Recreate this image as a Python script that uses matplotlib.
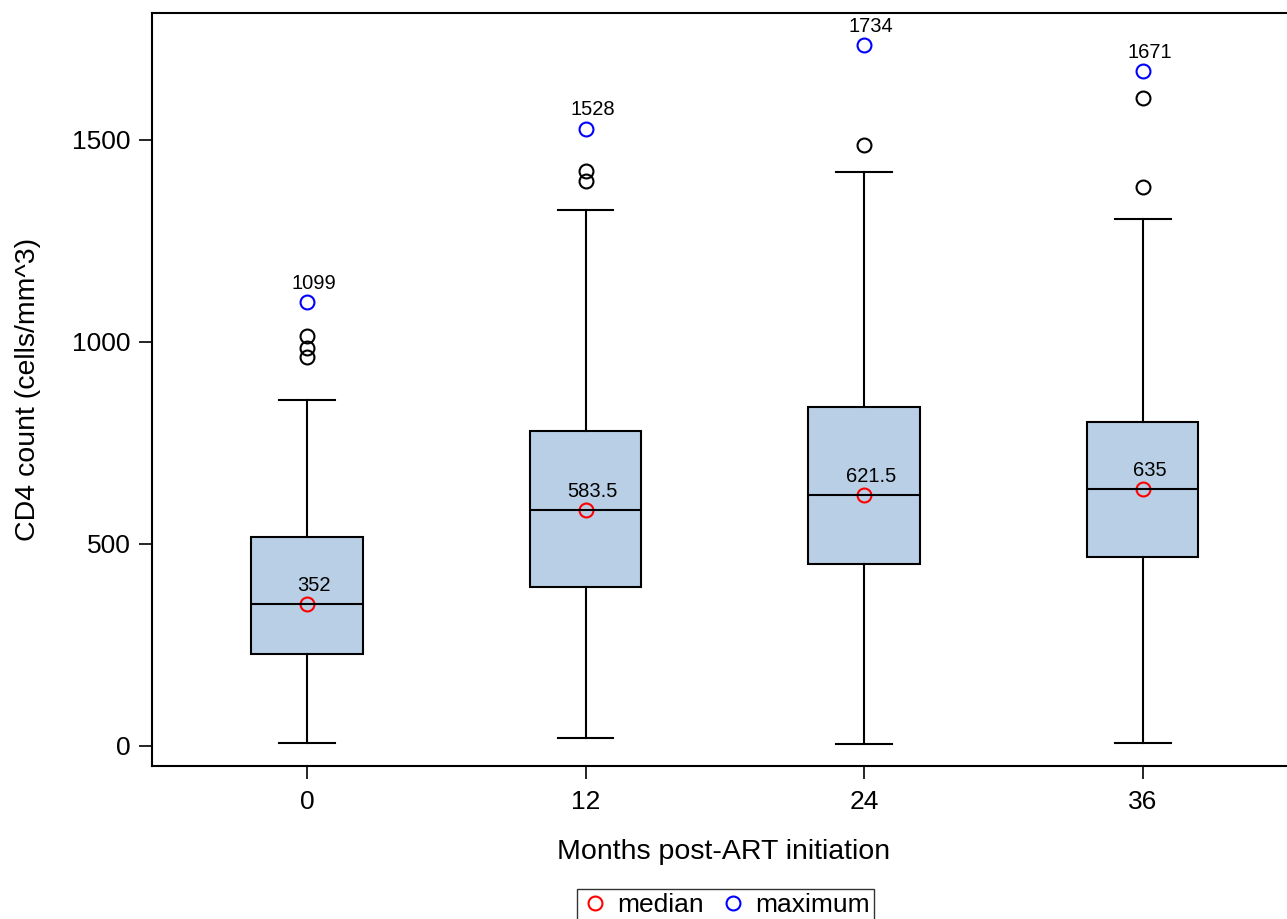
import numpy as np
import matplotlib
matplotlib.use("Agg")
import matplotlib.pyplot as plt

plt.rcParams['font.family'] = ['Liberation Sans', 'DejaVu Sans']

# data
months = ['0', '12', '24', '36']
q1 = [228, 393, 450, 467]
q3 = [518, 780, 840, 802]
medians = [352, 583.5, 621.5, 635]
whisk_lo = [8, 20, 6, 8]
whisk_hi = [857, 1327, 1420, 1305]
outliers = [[962, 984, 1014], [1399, 1424], [1487], [1383, 1604]]
maxima = [1099, 1528, 1734, 1671]

box_color = '#B9CFE6'

fig = plt.figure(figsize=(12.87, 9.19), dpi=100)
ax = fig.add_axes([152/1287, 153/919, (1296-152)/1287, (766-13)/919])

pos = np.arange(len(months))
stats = []
for i in range(len(months)):
    stats.append(dict(med=medians[i], q1=q1[i], q3=q3[i],
                      whislo=whisk_lo[i], whishi=whisk_hi[i],
                      fliers=outliers[i]))

ax.bxp(stats, positions=pos, widths=0.4, patch_artist=True,
       boxprops=dict(facecolor=box_color, edgecolor='black', linewidth=1.5),
       medianprops=dict(color='black', linewidth=1.5),
       whiskerprops=dict(color='black', linewidth=1.5),
       capprops=dict(color='black', linewidth=1.5),
       flierprops=dict(marker='o', markersize=10, markerfacecolor='none',
                       markeredgecolor='black', markeredgewidth=1.5))

ax.plot(pos, medians, 'o', ls='none', markersize=10, markerfacecolor='none',
        markeredgecolor='red', markeredgewidth=1.5, label='median')
ax.plot(pos, maxima, 'o', ls='none', markersize=10, markerfacecolor='none',
        markeredgecolor='blue', markeredgewidth=1.5, label='maximum')

for i in range(len(months)):
    for v in (medians[i], maxima[i]):
        ax.annotate(f'{v:g}', (pos[i], v), xytext=(5, 9.5),
                    textcoords='offset points', ha='center', va='baseline',
                    fontsize=14.5)

ax.set_xlim(-0.556, 3.55)
ax.set_ylim(-49.5, 1814)
ax.set_yticks([0, 500, 1000, 1500])
ax.set_xticks(pos)
ax.set_xticklabels(months)
ax.tick_params(axis='both', direction='out', length=9.5, width=1.2,
               labelsize=19, pad=6)
ax.tick_params(axis='x', pad=8)
for s in ax.spines.values():
    s.set_linewidth(1.5)

ax.set_xlabel('Months post-ART initiation', fontsize=20.5, labelpad=18)
ax.set_ylabel('CD4 count (cells/mm^3)', fontsize=20.5, labelpad=22)

fig.legend(loc='upper center', bbox_to_anchor=(725.5/1287, 1 - 889/919),
           ncol=2, fontsize=19, frameon=True, fancybox=False,
           edgecolor='black', handletextpad=0.35, columnspacing=0.6,
           borderpad=0.15, handlelength=1.0, borderaxespad=0)

fig.savefig('out.png', dpi=100)
